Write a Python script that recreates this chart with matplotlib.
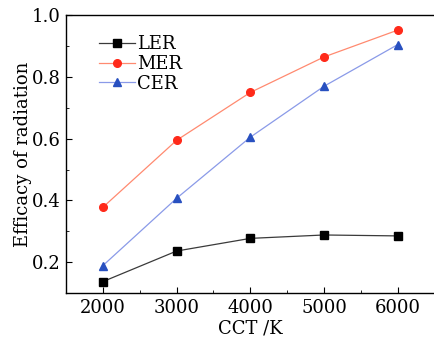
import matplotlib
matplotlib.use("Agg")
import matplotlib.pyplot as plt
from matplotlib.ticker import MultipleLocator

cct = [2000, 3000, 4000, 5000, 6000]
ler = [0.137, 0.236, 0.277, 0.288, 0.285]
mer = [0.378, 0.595, 0.750, 0.865, 0.952]
cer = [0.189, 0.407, 0.605, 0.770, 0.905]

plt.rcParams['font.family'] = ['DejaVu Serif']
fig = plt.figure(figsize=(4.35, 3.37), dpi=100)
ax = fig.add_axes([0.152, 0.1306, 0.847, 0.824])

ax.plot(cct, ler, '-', color='#3a3a3a', lw=0.9, marker='s', ms=5.5,
        mfc='black', mec='black', label='LER')
ax.plot(cct, mer, '-', color='#ff8a70', lw=0.9, marker='o', ms=5.5,
        mfc='#ff2a1a', mec='#ff2a1a', label='MER')
ax.plot(cct, cer, '-', color='#8a9ae8', lw=0.9, marker='^', ms=6,
        mfc='#2850c0', mec='#2850c0', label='CER')

ax.set_xlim(1500, 6500)
ax.set_ylim(0.1, 1.0)
ax.xaxis.set_major_locator(MultipleLocator(1000))
ax.xaxis.set_minor_locator(MultipleLocator(500))
ax.yaxis.set_major_locator(MultipleLocator(0.2))
ax.yaxis.set_minor_locator(MultipleLocator(0.1))
ax.tick_params(which='both', direction='in', top=False, right=False, labelsize=13)
ax.tick_params(which='major', length=4, pad=4)
ax.tick_params(which='minor', length=2.5)
for s in ax.spines.values():
    s.set_linewidth(1.0)
ax.spines['right'].set_color('#888888')

ax.set_xlabel('CCT /K', fontsize=13, labelpad=2)
ax.set_ylabel('Efficacy of radiation', fontsize=13, labelpad=0)

leg = ax.legend(loc='upper left', bbox_to_anchor=(0.07, 0.955), frameon=False,
                fontsize=13, handlelength=2.0, handletextpad=0.1,
                labelspacing=0.1, borderaxespad=0)

fig.savefig('out.png', dpi=100)
